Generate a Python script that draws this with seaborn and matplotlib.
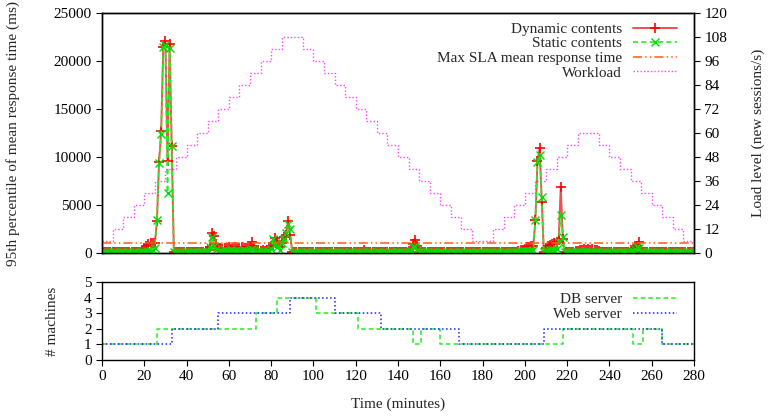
import matplotlib
matplotlib.use("Agg")
import matplotlib.pyplot as plt
import seaborn as sns
import pandas as pd
import numpy as np

# ---------------- data ----------------
minutes = list(range(0, 281))

dynamic_ms = [
    80,100,90,110,70,90,100,80,90,100,90,80,90,110,80,90,100,90,120,200,
    400,730,900,1070,1000,1000,3300,9500,12700,21500,22100,9600,21800,11100,90,80,100,90,70,90,
    100,80,90,110,90,80,100,90,150,200,300,650,2100,1800,900,300,450,400,550,500,
    600,450,500,650,550,500,600,550,500,650,600,1180,700,300,250,200,300,250,280,400,
    700,1010,1600,1200,650,1000,1700,1900,3300,1900,90,80,100,90,80,90,70,100,90,80,
    90,100,80,90,110,80,90,100,90,80,90,100,90,80,110,90,80,100,90,80,
    90,100,80,90,300,90,100,80,90,110,80,90,100,90,80,90,100,90,80,110,
    90,80,100,90,150,200,400,900,1400,700,90,100,80,90,110,80,90,100,90,80,
    90,100,80,90,110,80,90,100,90,80,90,100,90,80,110,90,80,100,90,80,
    90,100,80,90,110,80,90,100,90,80,90,100,90,80,110,90,150,200,300,350,
    400,650,650,700,760,3400,9580,10900,5350,90,500,700,800,900,1000,1100,1350,6840,1500,90,
    100,90,80,110,200,250,350,300,400,350,450,300,400,350,300,250,90,100,90,80,
    90,100,80,90,110,80,90,100,90,150,300,400,500,700,1180,150,90,100,90,80,
    90,100,80,90,110,80,90,100,90,80,90,100,90,80,110,90,80,100,90,80,90,
]

static_ms = [
    50,60,40,70,50,60,80,50,40,60,70,50,60,40,50,70,60,50,80,100,
    120,150,200,250,300,500,3400,9400,12400,21500,21700,6300,21400,11100,60,50,70,40,60,50,
    60,50,70,40,60,50,60,80,100,120,150,650,1700,700,300,150,200,250,300,200,
    250,300,200,250,300,200,250,300,200,250,300,400,300,150,100,120,100,150,120,200,
    400,1420,900,600,300,1000,1500,2050,3000,2500,60,50,70,40,60,50,60,80,50,40,
    60,70,50,60,40,50,70,60,50,80,60,40,70,50,60,40,50,70,60,50,
    60,50,70,40,100,50,60,80,50,40,60,70,50,60,40,50,70,60,50,80,
    60,50,70,40,60,100,200,600,650,300,60,50,70,40,60,50,60,80,50,40,
    60,70,50,60,40,50,70,60,50,80,60,40,70,50,60,40,50,70,60,50,
    60,50,70,40,60,50,60,80,50,40,60,70,50,60,40,100,120,150,200,200,
    200,200,250,250,300,3440,9520,10200,5870,60,200,250,300,300,350,400,1100,3960,1700,60,
    60,50,70,40,60,100,150,120,150,200,150,120,150,100,80,60,50,70,60,50,
    60,50,70,40,60,50,60,80,50,100,150,250,400,660,500,80,60,50,70,60,
    60,70,50,60,40,50,70,60,50,80,60,40,70,50,60,40,50,70,60,50,60,
]

sla_ms = 1000

wl_time = [0,5,10,15,20,25,30,35,40,45,50,55,60,65,70,75,80,85,
           95,100,105,110,115,120,125,130,135,140,145,150,155,160,165,170,175,
           185,190,195,200,205,210,215,220,225,
           235,240,245,250,255,260,265,270,275,280]
wl_level = [6,12,18,24,30,36,42,48,54,60,66,72,78,84,90,96,102,108,
            102,96,90,84,78,72,66,60,54,48,42,36,30,24,18,12,6,
            12,18,24,30,36,42,48,54,60,
            54,48,42,36,30,24,18,12,6,6]

db_time = [0,26,73,83,101,121,147,151,160,218,251,256,265,280]
db_count = [1,2,3,4,3,2,1,2,1,2,1,2,1,1]
web_time = [0,33,55,89,110,132,169,209,265,280]
web_count = [1,2,3,4,3,2,1,2,1,1]

x_ticks = list(range(0, 281, 20))
left_ticks = [0, 5000, 10000, 15000, 20000, 25000]
right_ticks = list(range(0, 121, 12))
machine_ticks = [0, 1, 2, 3, 4, 5]

# ---------------- style ----------------
sns.set_style("ticks")
plt.rcParams['font.family'] = ['Liberation Serif', 'DejaVu Serif']
plt.rcParams['font.size'] = 11
plt.rcParams['axes.linewidth'] = 1.0
plt.rcParams['xtick.major.size'] = 4
plt.rcParams['ytick.major.size'] = 4
plt.rcParams['xtick.color'] = 'black'
plt.rcParams['ytick.color'] = 'black'
plt.rcParams['axes.edgecolor'] = 'black'

fig = plt.figure(figsize=(7.69, 4.16), dpi=100)
ax1 = fig.add_axes([0.1326, 0.3918, 0.7698, 0.5769])
ax2 = ax1.twinx()
ax3 = fig.add_axes([0.1326, 0.1346, 0.7698, 0.1875])

resp = pd.DataFrame({"t": minutes, "dyn": dynamic_ms, "sta": static_ms})
wl = pd.DataFrame({"t": wl_time, "lvl": wl_level})
db = pd.DataFrame({"t": db_time, "n": db_count})
web = pd.DataFrame({"t": web_time, "n": web_count})

# workload on right axis
sns.lineplot(data=wl, x="t", y="lvl", ax=ax2, color="#ff44ff", lw=1.0,
             linestyle=(0, (1, 1.5)), drawstyle="steps-post", label="Workload",
             legend=False)

sns.lineplot(data=resp, x="t", y="dyn", ax=ax1, color="#f25050", lw=1.4,
             marker="+", markersize=6.5, markeredgewidth=1.2,
             markeredgecolor="red", markerfacecolor="red",
             label="Dynamic contents", legend=False)
sns.lineplot(data=resp, x="t", y="sta", ax=ax1, color="#22ee22", lw=1.2,
             linestyle=(0, (3, 2)), marker="x", markersize=5.5, markeredgewidth=1.0,
             markeredgecolor="#00dd00", markerfacecolor="#00dd00",
             label="Static contents", legend=False)
ax1.axhline(sla_ms, color="#ff5a1f", lw=1.1, linestyle=(0, (6, 2, 1, 2, 1, 2)),
            label="Max SLA mean response time")

ax1.set_xlim(0, 280)
ax1.set_ylim(0, 25000)
ax2.set_ylim(0, 120)
ax1.set_yticks(left_ticks)
ax1.set_yticklabels([str(v) for v in left_ticks])
ax2.set_yticks(right_ticks)
ax1.set_xticks(x_ticks)
ax1.tick_params(axis='x', bottom=False, labelbottom=False)
ax2.tick_params(axis='x', bottom=False, labelbottom=False)
ax1.set_xlabel("")
ax2.set_xlabel("")
ax1.set_ylabel("95th percentile of mean response time (ms)")
ax2.set_ylabel("Load level (new sessions/s)")
ax1.yaxis.set_label_coords(-0.1385, 0.5)
ax2.yaxis.set_label_coords(1.098, 0.5)
ax1.set_zorder(ax2.get_zorder() + 1)
ax1.patch.set_visible(False)
for ax in (ax1, ax2):
    for s in ax.spines.values():
        s.set_visible(True)
        s.set_color('black')

h1, lab1 = ax1.get_legend_handles_labels()
h2, lab2 = ax2.get_legend_handles_labels()
leg = ax1.legend(h1 + h2, lab1 + lab2, loc="upper right", frameon=False,
                 markerfirst=False, handlelength=2.9, handletextpad=0.7,
                 labelspacing=0.06, borderaxespad=0.2, fontsize=11,
                 bbox_to_anchor=(0.987, 1.0))

# machines panel
sns.lineplot(data=db, x="t", y="n", ax=ax3, color="#22ee22", lw=1.1,
             linestyle=(0, (3, 2)), drawstyle="steps-post", label="DB server",
             legend=False)
sns.lineplot(data=web, x="t", y="n", ax=ax3, color="#2020ff", lw=1.1,
             linestyle=(0, (1, 1.6)), drawstyle="steps-post", label="Web server",
             legend=False)
ax3.set_xlim(0, 280)
ax3.set_ylim(0, 5)
ax3.set_xticks(x_ticks)
ax3.set_yticks(machine_ticks)
ax3.set_xlabel("Time (minutes)", labelpad=10)
ax3.set_ylabel("# machines")
ax3.yaxis.set_label_coords(-0.0726, 0.5)
for s in ax3.spines.values():
    s.set_visible(True)
    s.set_color('black')
ax3.legend(loc="upper right", frameon=False, markerfirst=False,
           handlelength=2.9, handletextpad=0.7, labelspacing=0.08,
           borderaxespad=0.2, fontsize=11, bbox_to_anchor=(0.987, 0.98))

fig.savefig("out.png", dpi=100)
